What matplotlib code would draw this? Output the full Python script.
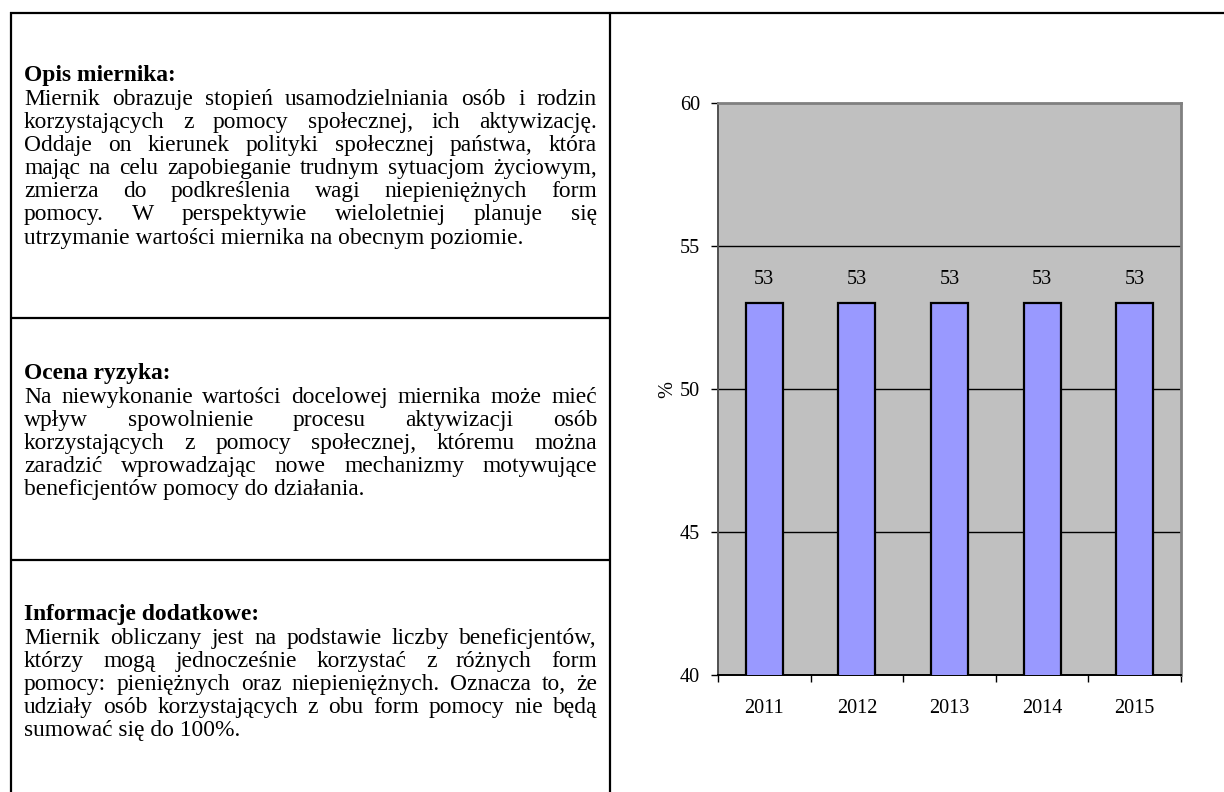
import matplotlib
matplotlib.use("Agg")
import matplotlib.pyplot as plt
from matplotlib.lines import Line2D

# ---------------- data ----------------
years = ["2011", "2012", "2013", "2014", "2015"]
values = [53, 53, 53, 53, 53]
y_ticks = [40, 45, 50, 55, 60]
y_label = "%"

sec1_title = "Opis miernika:"
sec1_lines = [
    "Miernik obrazuje stopień usamodzielniania osób i rodzin",
    "korzystających z pomocy społecznej, ich aktywizację.",
    "Oddaje on kierunek polityki społecznej państwa, która",
    "mając na celu zapobieganie trudnym sytuacjom życiowym,",
    "zmierza do podkreślenia wagi niepieniężnych form",
    "pomocy. W perspektywie wieloletniej planuje się",
    "utrzymanie wartości miernika na obecnym poziomie.",
]
sec2_title = "Ocena ryzyka:"
sec2_lines = [
    "Na niewykonanie wartości docelowej miernika może mieć",
    "wpływ spowolnienie procesu aktywizacji osób",
    "korzystających z pomocy społecznej, któremu można",
    "zaradzić wprowadzając nowe mechanizmy motywujące",
    "beneficjentów pomocy do działania.",
]
sec3_title = "Informacje dodatkowe:"
sec3_lines = [
    "Miernik obliczany jest na podstawie liczby beneficjentów,",
    "którzy mogą jednocześnie korzystać z różnych form",
    "pomocy: pieniężnych oraz niepieniężnych. Oznacza to, że",
    "udziały osób korzystających z obu form pomocy nie będą",
    "sumować się do 100%.",
]

# ---------------- figure ----------------
W, H = 1224, 792
fig = plt.figure(figsize=(W / 100, H / 100), dpi=100)
FAM = "Liberation Serif"
FS = 16.9      # table text
CFS = 14.6     # chart text


def fx(x):
    return x / W


def fy(y):
    return 1 - y / H


def hline(x0, x1, y):
    fig.add_artist(Line2D([fx(x0), fx(x1)], [fy(y), fy(y)], color="black", lw=1.6,
                          transform=fig.transFigure, solid_capstyle="butt"))


def vline(x, y0, y1):
    fig.add_artist(Line2D([fx(x), fx(x)], [fy(y0), fy(y1)], color="black", lw=1.6,
                          transform=fig.transFigure, solid_capstyle="butt"))


hline(10, W, 13)
hline(10, 611, 318)
hline(10, 611, 560)
vline(11, 12, H)
vline(610, 12, H)

renderer = fig.canvas.get_renderer()


def text_width(s, weight="normal"):
    t = fig.text(0, 0, s, fontsize=FS, family=FAM, weight=weight)
    w = t.get_window_extent(renderer).width
    t.remove()
    return w


L, R = 24, 597
LS = 23.1


def draw_section(title, lines, y_first):
    fig.text(fx(L), fy(y_first - 24), title, fontsize=FS, family=FAM, weight="bold",
             va="baseline", ha="left")
    for i, line in enumerate(lines):
        y = y_first + i * LS
        last = i == len(lines) - 1
        words = line.split(" ")
        if last or len(words) == 1:
            fig.text(fx(L), fy(y), line, fontsize=FS, family=FAM, va="baseline", ha="left")
            continue
        ws = [text_width(w) for w in words]
        gap = (R - L - sum(ws)) / (len(words) - 1)
        x = L
        for w, wd in zip(words, ws):
            fig.text(fx(x), fy(y), w, fontsize=FS, family=FAM, va="baseline", ha="left")
            x += wd + gap


draw_section(sec1_title, sec1_lines, 105)
draw_section(sec2_title, sec2_lines, 403)
draw_section(sec3_title, sec3_lines, 644)

# ---------------- chart ----------------
ax_l, ax_r, ax_t, ax_b = 718, 1181, 103, 675
ax = fig.add_axes([fx(ax_l), fy(ax_b), (ax_r - ax_l) / W, (ax_b - ax_t) / H])
ax.set_facecolor("#C0C0C0")
x = list(range(len(years)))
ax.bar(x, values, width=0.40, bottom=0, color="#9999FF", edgecolor="black",
       linewidth=1.6, zorder=3)
ax.set_ylim(40, 60)
ax.set_xlim(-0.5, len(years) - 0.5)
for yt in y_ticks[1:-1]:
    ax.axhline(yt, color="black", lw=1.0, zorder=1)
ax.set_yticks(y_ticks)
ax.set_yticklabels([str(v) for v in y_ticks], fontsize=CFS, family=FAM)
ax.set_xticks(x)
ax.set_xticklabels(years, fontsize=CFS, family=FAM)
ax.tick_params(axis="x", which="major", length=0, pad=17)
ax.set_xticks([i - 0.5 for i in range(len(years) + 1)], minor=True)
ax.tick_params(axis="x", which="minor", length=5, width=1.0, color="black", direction="out")
ax.tick_params(axis="y", length=5, width=1.0, color="black", direction="out", pad=8)
for s in ["top", "right"]:
    ax.spines[s].set_color("#808080")
    ax.spines[s].set_linewidth(2.0)
ax.spines["left"].set_color("#505050")
ax.spines["left"].set_linewidth(1.4)
ax.spines["bottom"].set_color("black")
ax.spines["bottom"].set_linewidth(1.4)
ax.set_ylabel(y_label, fontsize=CFS, family=FAM, labelpad=2)
for i, v in zip(x, values):
    ax.annotate(str(v), (i, v), xytext=(0, 17), textcoords="offset points",
                ha="center", va="center", fontsize=CFS, family=FAM, zorder=4)

fig.savefig("out.png", dpi=100)
